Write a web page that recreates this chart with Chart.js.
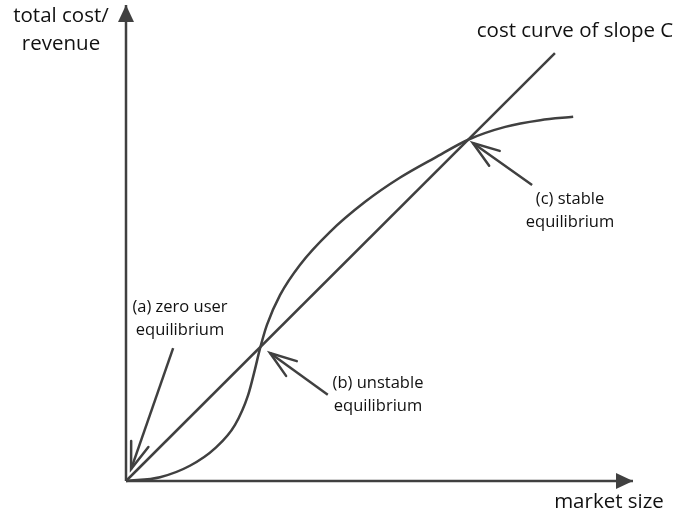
<!doctype html>
<html lang="en">
  <head>
    <meta charset="utf-8">
    <title>Network effect equilibria</title>
    <script src="https://cdn.jsdelivr.net/npm/chart.js@4.4.0/dist/chart.umd.min.js"></script>
    <style>
      body { margin: 0; background: #fff; }
      #wrap { width: 675px; height: 516px; }
    </style>
  </head>
  <body>
    <div id="wrap">
      <canvas id="myChart" width="675" height="516"></canvas>
    </div>

    <script>
      // market size (x) / total cost-revenue (y), arbitrary units 0..10
      var revenueX = [0, 0.67, 1.26, 1.76, 2.15, 2.41, 2.54, 2.64, 2.78, 3.04, 3.43, 4.02, 4.71, 5.40, 6.09, 6.77, 7.48, 8.17, 8.82];
      var revenueY = [0, 0.08, 0.32, 0.69, 1.18, 1.81, 2.33, 2.77, 3.28, 3.91, 4.54, 5.23, 5.86, 6.37, 6.79, 7.18, 7.44, 7.58, 7.65];

      var costX = [0, 8.46];
      var costY = [0, 8.99];

      // axes
      var xAxisX = [0, 10];
      var xAxisY = [0, 0];
      var yAxisX = [0, 0];
      var yAxisY = [0, 10];

      // annotation arrows: [tail, tip]
      var arrowA = [[0.93, 2.79], [0.10, 0.25]];
      var arrowB = [[3.98, 1.81], [2.84, 2.69]];
      var arrowC = [[8.01, 6.22], [6.84, 7.10]];

      var labelTexts = [
        ["(a) zero user", "equilibrium"],
        ["(b) unstable", "equilibrium"],
        ["(c) stable", "equilibrium"]
      ];

      var ink = "#404040";

      function pts(xs, ys){
        return xs.map(function(x, i){ return {x: x, y: ys[i]}; });
      }
      function arrowPts(a){
        return a.map(function(p){ return {x: p[0], y: p[1]}; });
      }

      function lineSet(data, head){
        return {
          data: data,
          borderColor: ink,
          borderWidth: 2.5,
          pointRadius: 0,
          fill: false,
          clip: false,
          cubicInterpolationMode: "monotone",
          head: head
        };
      }

      // draws arrow heads on the last point of a dataset + all the text
      var decor = {
        id: "decor",
        afterDatasetsDraw: function(chart){
          var ctx = chart.ctx;
          ctx.save();
          chart.data.datasets.forEach(function(ds, i){
            if(!ds.head) return;
            var meta = chart.getDatasetMeta(i);
            var n = meta.data.length;
            var tip = meta.data[n-1], from = meta.data[n-2];
            var ang = Math.atan2(tip.y - from.y, tip.x - from.x);
            ctx.strokeStyle = ink;
            ctx.fillStyle = ink;
            if(ds.head === "solid"){
              var len = 17, half = 8;
              ctx.beginPath();
              ctx.moveTo(tip.x, tip.y);
              ctx.lineTo(tip.x - len*Math.cos(ang) - half*Math.sin(ang), tip.y - len*Math.sin(ang) + half*Math.cos(ang));
              ctx.lineTo(tip.x - len*Math.cos(ang) + half*Math.sin(ang), tip.y - len*Math.sin(ang) - half*Math.cos(ang));
              ctx.closePath();
              ctx.fill();
            } else {
              var L = 28, spread = 19*Math.PI/180;
              ctx.lineWidth = 2.5;
              ctx.lineCap = "round";
              ctx.beginPath();
              ctx.moveTo(tip.x - L*Math.cos(ang - spread), tip.y - L*Math.sin(ang - spread));
              ctx.lineTo(tip.x, tip.y);
              ctx.lineTo(tip.x - L*Math.cos(ang + spread), tip.y - L*Math.sin(ang + spread));
              ctx.stroke();
            }
          });

          ctx.fillStyle = "#111";
          ctx.textBaseline = "middle";
          ctx.textAlign = "center";
          ctx.font = "20.5px 'Open Sans'";
          ctx.fillText("total cost/", 61, 16);
          ctx.fillText("revenue", 61, 44);
          ctx.fillText("cost curve of slope C", 575, 31);
          ctx.fillText("market size", 609, 502);

          ctx.font = "16.5px 'Open Sans'";
          var spots = [[180, 307], [378, 383], [570, 199]];
          labelTexts.forEach(function(t, k){
            ctx.fillText(t[0], spots[k][0], spots[k][1]);
            ctx.fillText(t[1], spots[k][0], spots[k][1] + 23);
          });
          ctx.restore();
        }
      };

      function showChart(){
        var ctx = document.getElementById("myChart").getContext("2d");
        var mychart = new Chart(ctx, {
          type: "line",
          data: {
            datasets: [
              lineSet(pts(xAxisX, xAxisY), "solid"),
              lineSet(pts(yAxisX, yAxisY), "solid"),
              lineSet(pts(costX, costY)),
              lineSet(pts(revenueX, revenueY)),
              lineSet(arrowPts(arrowA), "open"),
              lineSet(arrowPts(arrowB), "open"),
              lineSet(arrowPts(arrowC), "open")
            ]
          },
          options: {
            responsive: false,
            animation: false,
            layout: { padding: { left: 126, right: 42, top: 5, bottom: 35 } },
            plugins: { legend: { display: false }, tooltip: { enabled: false } },
            scales: {
              x: { type: "linear", min: 0, max: 10, display: false },
              y: { type: "linear", min: 0, max: 10, display: false }
            }
          },
          plugins: [decor]
        });
      }

      showChart();
    </script>
  </body>
</html>
